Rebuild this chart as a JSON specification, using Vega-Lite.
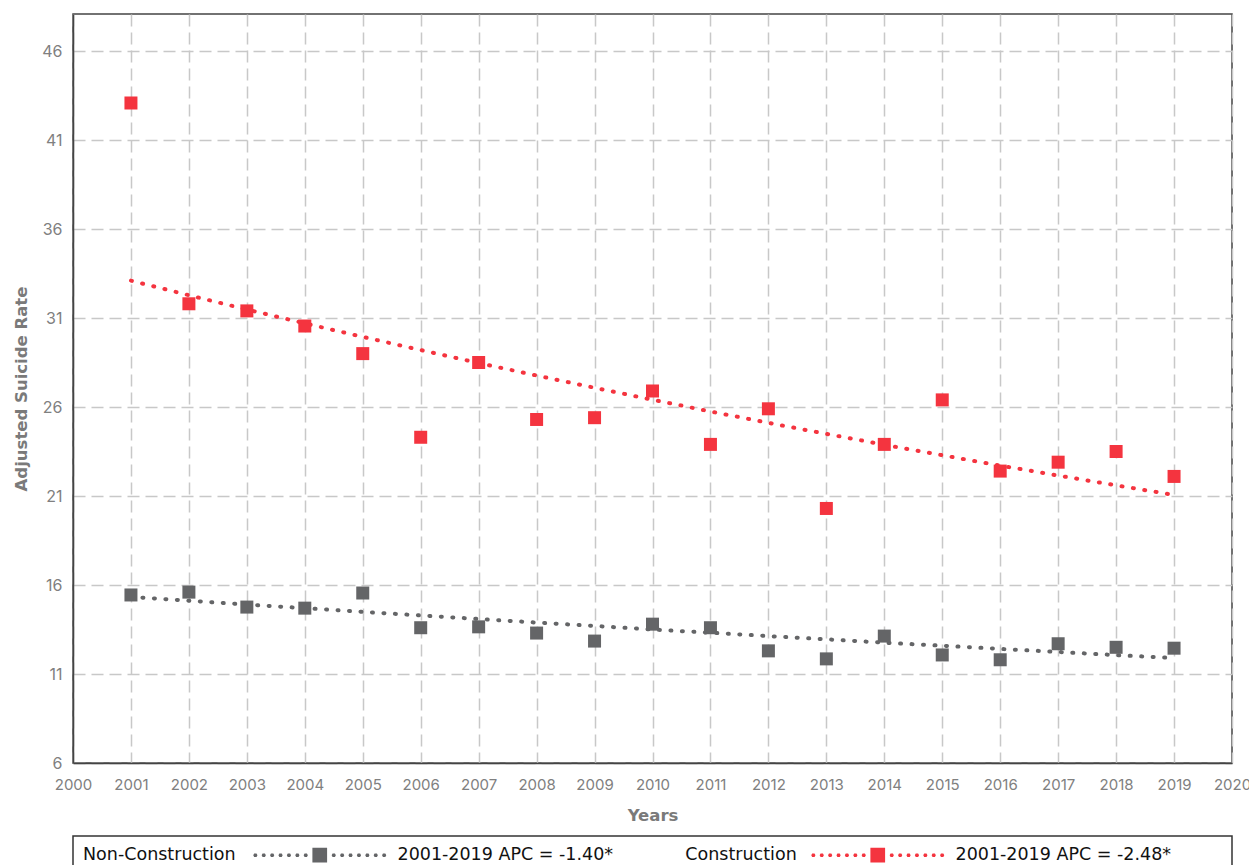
{
  "$schema": "https://vega.github.io/schema/vega-lite/v6.json",
  "width": 1159,
  "height": 749,
  "autosize": {"type": "none"},
  "padding": {"left": 73, "top": 14, "right": 17, "bottom": 102},
  "background": "white",
  "config": {
    "font": "Inter",
    "view": {"stroke": "#444444", "strokeWidth": 1.5},
    "legend": {"strokeColor": "#333333", "strokeWidth": 1.5},
    "axis": {
      "domainColor": "#444444",
      "domainWidth": 1.5,
      "grid": true,
      "gridColor": "#c8c8c8",
      "gridDash": [12, 6],
      "gridWidth": 1.5,
      "ticks": false,
      "labelFont": "Inter",
      "labelFontSize": 15,
      "labelColor": "#808080",
      "titleFont": "DejaVu Sans",
      "titleFontSize": 16.5,
      "titleFontWeight": "bold",
      "titleColor": "#7a7a7a"
    }
  },
  "data": {
    "values": [
      {"year": 2001, "series": "Non-Construction", "rate": 15.44, "trend": 15.33},
      {"year": 2002, "series": "Non-Construction", "rate": 15.6, "trend": 15.12},
      {"year": 2003, "series": "Non-Construction", "rate": 14.76, "trend": 14.9},
      {"year": 2004, "series": "Non-Construction", "rate": 14.7, "trend": 14.7},
      {"year": 2005, "series": "Non-Construction", "rate": 15.55, "trend": 14.49},
      {"year": 2006, "series": "Non-Construction", "rate": 13.6, "trend": 14.29},
      {"year": 2007, "series": "Non-Construction", "rate": 13.65, "trend": 14.09},
      {"year": 2008, "series": "Non-Construction", "rate": 13.3, "trend": 13.89},
      {"year": 2009, "series": "Non-Construction", "rate": 12.85, "trend": 13.7},
      {"year": 2010, "series": "Non-Construction", "rate": 13.8, "trend": 13.5},
      {"year": 2011, "series": "Non-Construction", "rate": 13.6, "trend": 13.32},
      {"year": 2012, "series": "Non-Construction", "rate": 12.3, "trend": 13.13},
      {"year": 2013, "series": "Non-Construction", "rate": 11.85, "trend": 12.95},
      {"year": 2014, "series": "Non-Construction", "rate": 13.13, "trend": 12.76},
      {"year": 2015, "series": "Non-Construction", "rate": 12.07, "trend": 12.59},
      {"year": 2016, "series": "Non-Construction", "rate": 11.8, "trend": 12.41},
      {"year": 2017, "series": "Non-Construction", "rate": 12.7, "trend": 12.24},
      {"year": 2018, "series": "Non-Construction", "rate": 12.5, "trend": 12.06},
      {"year": 2019, "series": "Non-Construction", "rate": 12.45, "trend": 11.9},
      {"year": 2001, "series": "Construction", "rate": 43.08, "trend": 33.1},
      {"year": 2002, "series": "Construction", "rate": 31.8, "trend": 32.28},
      {"year": 2003, "series": "Construction", "rate": 31.4, "trend": 31.48},
      {"year": 2004, "series": "Construction", "rate": 30.55, "trend": 30.7},
      {"year": 2005, "series": "Construction", "rate": 29.0, "trend": 29.94},
      {"year": 2006, "series": "Construction", "rate": 24.3, "trend": 29.2},
      {"year": 2007, "series": "Construction", "rate": 28.5, "trend": 28.47},
      {"year": 2008, "series": "Construction", "rate": 25.3, "trend": 27.77},
      {"year": 2009, "series": "Construction", "rate": 25.4, "trend": 27.08},
      {"year": 2010, "series": "Construction", "rate": 26.9, "trend": 26.41},
      {"year": 2011, "series": "Construction", "rate": 23.9, "trend": 25.75},
      {"year": 2012, "series": "Construction", "rate": 25.9, "trend": 25.11},
      {"year": 2013, "series": "Construction", "rate": 20.3, "trend": 24.49},
      {"year": 2014, "series": "Construction", "rate": 23.9, "trend": 23.88},
      {"year": 2015, "series": "Construction", "rate": 26.4, "trend": 23.29},
      {"year": 2016, "series": "Construction", "rate": 22.4, "trend": 22.71},
      {"year": 2017, "series": "Construction", "rate": 22.9, "trend": 22.15},
      {"year": 2018, "series": "Construction", "rate": 23.5, "trend": 21.6},
      {"year": 2019, "series": "Construction", "rate": 22.1, "trend": 21.06}
    ]
  },
  "encoding": {
    "x": {
      "field": "year",
      "type": "quantitative",
      "scale": {"domain": [2000, 2020], "nice": false, "zero": false},
      "axis": {
        "title": "Years",
        "values": [2000, 2001, 2002, 2003, 2004, 2005, 2006, 2007, 2008, 2009, 2010, 2011, 2012, 2013, 2014, 2015, 2016, 2017, 2018, 2019, 2020],
        "format": "d",
        "labelPadding": 14,
        "titlePadding": 15,
        "labelFlush": false,
        "labelOverlap": false
      }
    },
    "color": {
      "field": "series",
      "type": "nominal",
      "scale": {"domain": ["Non-Construction", "Construction"], "range": ["#646567", "#f4343f"]},
      "legend": {
        "orient": "bottom",
        "direction": "horizontal",
        "offset": 12,
        "title": "Non-Construction",
        "titleOrient": "left",
        "titleFont": "DejaVu Sans",
        "titleFontSize": 17.5,
        "titleFontWeight": "normal",
        "titleColor": "#111111",
        "titlePadding": 17,
        "titleBaseline": "middle",
        "labelFont": "DejaVu Sans",
        "labelFontSize": 17.5,
        "labelColor": "#111111",
        "labelLimit": 2000,
        "labelExpr": "datum.label == 'Non-Construction' ? '2001-2019 APC = -1.40*\u00a0\u00a0\u00a0\u00a0\u00a0\u00a0\u00a0\u00a0\u00a0\u00a0\u00a0\u00a0\u00a0Construction' : '2001-2019 APC = -2.48*\u00a0\u00a0\u00a0\u00a0\u00a0\u00a0\u00a0\u00a0\u00a0\u200b'",
        "symbolType": "M-1.05,-1.05L1.05,-1.05L1.05,1.05L-1.05,1.05Z M-9.5,0L-9.37,-0.25L-9.03,-0.25L-8.9,0L-9.03,0.25L-9.37,0.25Z M-8.3,0L-8.17,-0.25L-7.83,-0.25L-7.7,0L-7.83,0.25L-8.17,0.25Z M-7.1,0L-6.97,-0.25L-6.63,-0.25L-6.5,0L-6.63,0.25L-6.97,0.25Z M-5.9,0L-5.77,-0.25L-5.43,-0.25L-5.3,0L-5.43,0.25L-5.77,0.25Z M-4.7,0L-4.57,-0.25L-4.23,-0.25L-4.1,0L-4.23,0.25L-4.57,0.25Z M-3.5,0L-3.37,-0.25L-3.03,-0.25L-2.9,0L-3.03,0.25L-3.37,0.25Z M-2.3,0L-2.17,-0.25L-1.83,-0.25L-1.7,0L-1.83,0.25L-2.17,0.25Z M1.7,0L1.83,-0.25L2.17,-0.25L2.3,0L2.17,0.25L1.83,0.25Z M2.9,0L3.03,-0.25L3.37,-0.25L3.5,0L3.37,0.25L3.03,0.25Z M4.1,0L4.23,-0.25L4.57,-0.25L4.7,0L4.57,0.25L4.23,0.25Z M5.3,0L5.43,-0.25L5.77,-0.25L5.9,0L5.77,0.25L5.43,0.25Z M6.5,0L6.63,-0.25L6.97,-0.25L7.1,0L6.97,0.25L6.63,0.25Z M7.7,0L7.83,-0.25L8.17,-0.25L8.3,0L8.17,0.25L7.83,0.25Z M8.9,0L9.03,-0.25L9.37,-0.25L9.5,0L9.37,0.25L9.03,0.25Z",
        "symbolSize": 196,
        "symbolStrokeWidth": 0,
        "symbolOpacity": 1,
        "symbolOffset": 58,
        "labelOffset": 69,
        "columnPadding": 14,
        "padding": 10,
        "encode": {
          "symbols": {
            "update": {
              "fill": {"scale": "color", "field": "value"},
              "stroke": {"value": "transparent"},
              "opacity": {"value": 1}
            }
          }
        }
      }
    }
  },
  "layer": [
    {
      "mark": {"type": "line", "strokeDash": [1, 10.5], "strokeCap": "round", "strokeWidth": 4},
      "encoding": {
        "y": {
          "field": "trend",
          "type": "quantitative",
          "scale": {"domain": [6, 48.08], "nice": false, "zero": false},
          "axis": {
            "title": "Adjusted Suicide Rate",
            "values": [6, 11, 16, 21, 26, 31, 36, 41, 46],
            "labelPadding": 11,
            "titlePadding": 12,
            "labelFontSize": 16
          }
        }
      }
    },
    {
      "mark": {"type": "point", "shape": "square", "filled": true, "size": 169, "opacity": 1},
      "encoding": {
        "y": {"field": "rate", "type": "quantitative"}
      }
    }
  ]
}
